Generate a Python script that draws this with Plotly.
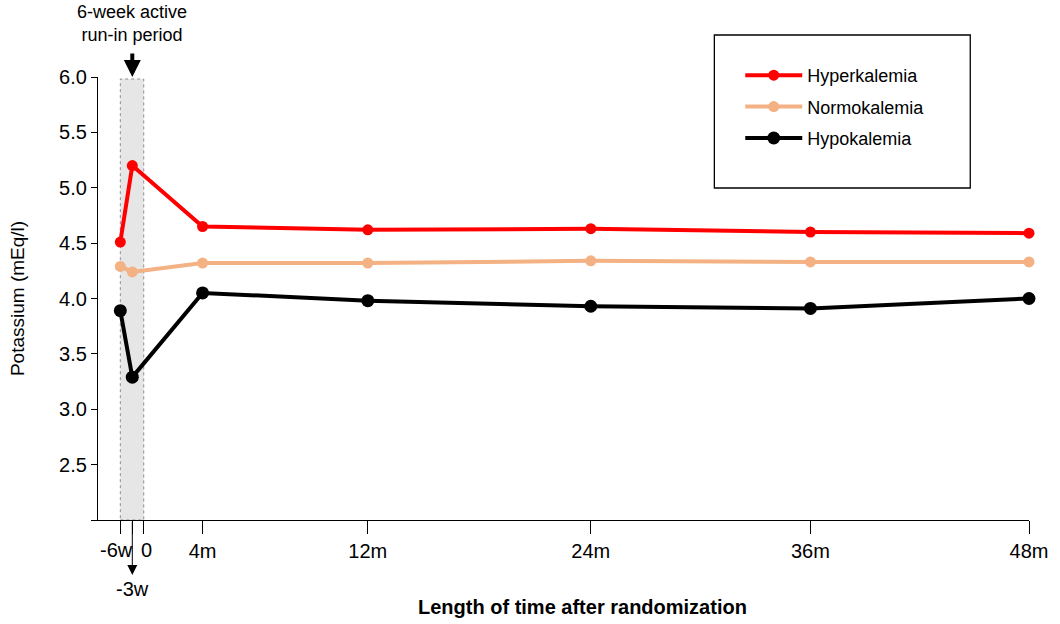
import plotly.graph_objects as go

# ---- data ----
time_labels = ["-6w", "-3w", "0", "4m", "12m", "24m", "36m", "48m"]
# position of each time point along the (non-uniform) horizontal axis
x_axis_pos = [-1.27, -0.62, 0.0, 3.19, 12.15, 24.24, 36.15, 48.0]
data_labels = ["-6w", "-3w", "4m", "12m", "24m", "36m", "48m"]

hyperkalemia = [4.51, 5.20, 4.65, 4.62, 4.63, 4.60, 4.59]
normokalemia = [4.29, 4.24, 4.32, 4.32, 4.34, 4.33, 4.33]
hypokalemia = [3.89, 3.29, 4.05, 3.98, 3.93, 3.91, 4.00]

y_ticks = [2.0, 2.5, 3.0, 3.5, 4.0, 4.5, 5.0, 5.5, 6.0]

pos_of = dict(zip(time_labels, x_axis_pos))
x_data = [pos_of[t] for t in data_labels]

FONT = "Liberation Sans, Arial, sans-serif"

# plot area in pixels (for paper-coordinate conversions)
L, R, T, B = 98, 1033, 77, 520
PW, PH = R - L, B - T


def px_x(px):
    return (px - L) / PW


def px_y(py):
    return (B - py) / PH


# the crowded run-in labels are drawn as annotations
run_in_labels = ["-6w", "-3w", "0"]

fig = go.Figure()

series = [
    ("Hyperkalemia", hyperkalemia, "#FF0000", 11),
    ("Normokalemia", normokalemia, "#F4B183", 11),
    ("Hypokalemia", hypokalemia, "#000000", 13),
]
for name, vals, col, msize in series:
    fig.add_trace(go.Scatter(
        x=x_data, y=vals, name=name, mode="lines+markers",
        line=dict(color=col, width=4),
        marker=dict(color=col, size=msize),
        cliponaxis=False, legendgroup=name,
    ))

# run-in period shading
fig.add_shape(type="rect", xref="x", yref="paper",
              x0=pos_of["-6w"], x1=pos_of["0"], y0=0, y1=px_y(79),
              fillcolor="#E6E6E6", line=dict(color="#8C8C8C", width=1, dash="dot"),
              layer="below")

# legend box
fig.add_shape(type="rect", xref="paper", yref="paper",
              x0=px_x(717), x1=px_x(974), y0=px_y(188), y1=px_y(35),
              line=dict(color="#000000", width=1.3), fillcolor="rgba(0,0,0,0)")

tf = dict(size=20, color="#000", family=FONT)
ann = [
    dict(x=pos_of["-3w"], y=px_y(23), xref="x", yref="paper",
         text="6-week active<br>run-in period",
         showarrow=False, font=dict(size=18, color="#000", family=FONT),
         yanchor="middle", xanchor="center"),
    # thick down arrow
    dict(x=pos_of["-3w"], y=px_y(77), xref="x", yref="paper", text="",
         showarrow=True, ax=0, ay=-25, arrowhead=2, arrowsize=0.85,
         arrowwidth=4, arrowcolor="#000"),
    # thin arrow to -3w label
    dict(x=pos_of["-3w"], y=px_y(575), xref="x", yref="paper", text="",
         showarrow=True, ax=0, ay=-55, arrowhead=2, arrowsize=2,
         arrowwidth=1, arrowcolor="#000"),
    dict(x=pos_of["-3w"], y=px_y(589), xref="x", yref="paper", text="-3w",
         showarrow=False, font=tf, yanchor="middle"),
    # -6w and 0 tick labels (nudged apart to leave room for the arrow)
    dict(x=pos_of["-6w"], xshift=-4, y=px_y(550), xref="x", yref="paper", text="-6w",
         showarrow=False, font=tf, yanchor="middle", xanchor="center"),
    dict(x=pos_of["0"], xshift=3, y=px_y(550), xref="x", yref="paper", text="0",
         showarrow=False, font=tf, yanchor="middle", xanchor="center"),
    # x title
    dict(x=px_x(585), y=px_y(607), xref="paper", yref="paper",
         text="<b>Length of time after randomization</b>",
         showarrow=False, font=dict(size=20, color="#000", family=FONT),
         xanchor="center", yanchor="middle"),
]

fig.update_layout(
    width=1060, height=624,
    margin=dict(l=L, r=1060 - R, t=T, b=624 - B),
    plot_bgcolor="white", paper_bgcolor="white",
    font=dict(family=FONT, size=20, color="#000"),
    showlegend=True,
    legend=dict(x=px_x(743), y=px_y(57), xanchor="left", yanchor="top",
                bgcolor="rgba(0,0,0,0)", borderwidth=0, font=dict(size=18, family=FONT),
                traceorder="grouped", tracegroupgap=5, itemwidth=57),
    annotations=ann,
    xaxis=dict(range=[-2.48, 48.0], tickvals=x_axis_pos,
               ticktext=[("" if t in run_in_labels else t) for t in time_labels],
               tickangle=0,
               showline=True, linecolor="#000", linewidth=1.3,
               ticks="outside", ticklen=13, tickwidth=1.3, tickcolor="#000",
               showgrid=False, zeroline=False,
               tickfont=tf),
    yaxis=dict(range=[2.0, 6.0], tickvals=y_ticks,
               ticktext=[("" if v == 2.0 else f"{v:.1f}") for v in y_ticks],
               showline=True, linecolor="#000", linewidth=1.3,
               ticks="outside", ticklen=6, tickwidth=1.3, tickcolor="#000",
               showgrid=False, zeroline=False,
               tickfont=tf,
               title=dict(text="Potassium (mEq/l)", font=dict(size=19, family=FONT, color="#000"),
                          standoff=29)),
)

fig.write_html("out.html")
